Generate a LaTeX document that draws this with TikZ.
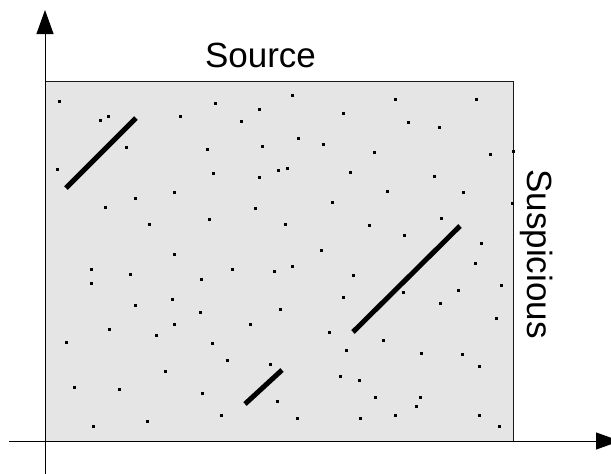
\documentclass[tikz,border=0pt]{standalone}
\usepackage{fontspec}
\setmainfont{Liberation Sans}
\usetikzlibrary{arrows.meta}
\begin{document}
\begin{tikzpicture}[x=1pt,y=-1pt,
  axis/.style={line width=1pt,-{Triangle[length=24pt,width=17pt]}},
  plane/.style={draw=black!90,line width=1pt,fill=black!10},
  speck/.style={fill=black},
  match/.style={line width=5pt},
  caption/.style={font=\fontsize{35}{42}\selectfont,inner sep=0pt}]
\useasboundingbox (0,0) rectangle (611,474);
\clip (0,0) rectangle (611,474);

% scatter plane
\coordinate (tl) at (45,81);
\coordinate (br) at (513,441);
\draw[plane] (tl) rectangle (br);

% scattered matches
\foreach \px/\py in {
  59/101,100/120,108/116,126/147,57/169,180/116,215/103,259/109,241/121,
  292/95,298/138,207/149,262/146,213/173,259/177,278/170,287/168,174/192,
  135/198,105/207,255/208,209/219,149/224,285/224,
  395/99,476/99,343/113,408/122,439/127,323/144,374/152,490/154,513/151,
  350/172,434/176,387/191,463/192,332/202,512/203,441/218,369/225,404/235,
  174/254,91/269,130/274,91/283,201/279,232/269,274/271,292/266,172/299,
  135/305,200/312,280/309,174/324,250/324,109/329,156/335,66/342,212/343,
  227/360,270/364,165/371,74/387,119/389,202/393,277/401,221/415,297/418,
  93/426,147/421,321/250,
  481/243,475/263,353/275,501/285,343/297,403/292,458/290,440/303,496/318,
  329/332,383/340,346/350,421/353,462/354,479/366,340/376,359/380,375/397,
  420/397,416/406,360/418,395/415,479/415,499/426}
  \fill[speck] (\px-1.5,\py-1.5) rectangle (\px+1.5,\py+1.5);

% diagonal runs of matches
\draw[match] (66,188) -- (136,118);
\draw[match] (353,332) -- (460,226);
\draw[match] (245,404) -- (282,370);

% axes
\coordinate (xstart) at (9,441);
\coordinate (xend) at (620,441);
\coordinate (ystart) at (45,474);
\coordinate (yend) at (45,10);
\draw[axis] (xstart) -- (xend);
\draw[axis] (ystart) -- (yend);

% labels
\node[caption,anchor=base] (source) at (260.5,67) {Source};
\node[caption,anchor=base,rotate=-90] (suspicious) at (527,254) {Suspicious};
\end{tikzpicture}
\end{document}
